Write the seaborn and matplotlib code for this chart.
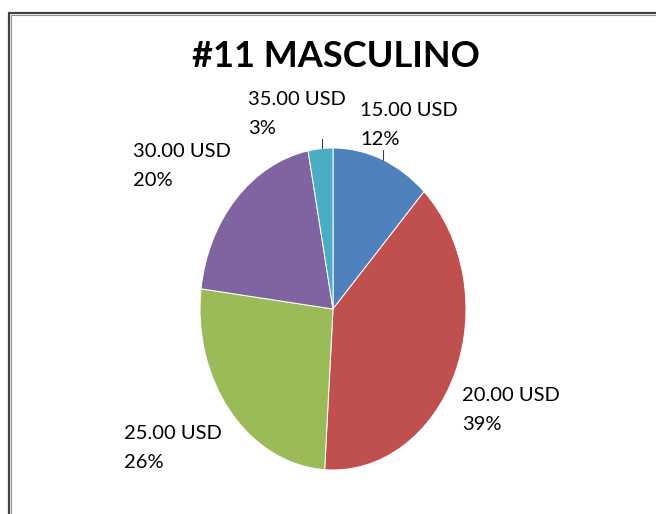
import matplotlib
matplotlib.use("Agg")
import matplotlib.pyplot as plt
import seaborn as sns
from matplotlib.patches import Rectangle

sns.set_theme(style="white")
plt.rcParams['font.family'] = ['Lato', 'DejaVu Sans']

# data
prices = ['15.00 USD', '20.00 USD', '25.00 USD', '30.00 USD', '35.00 USD']
shares = [12, 39, 26, 20, 3]
colors = ['#4F81BD', '#C0504D', '#9BBB59', '#8064A2', '#4BACC6']

W, H = 656, 514
fig = plt.figure(figsize=(W / 100, H / 100), dpi=100)
fig.patch.set_facecolor('white')

# outer frame (double line like the excel chart area)
for ox, oy, lw, c in [(8.5, 12.5, 1.6, '#404040'), (10.5, 14.5, 0.8, '#909090')]:
    fig.add_artist(Rectangle((ox / W, -0.5), 2.0, 1.5 - oy / H,
                             transform=fig.transFigure, fill=False,
                             edgecolor=c, linewidth=lw))

# pie axes: ellipse centre ~(333,309), rx 133, ry 161
ax = fig.add_axes([200 / W, 44 / H, 266 / W, 322 / H])
ax.pie(shares, colors=colors, startangle=90, counterclock=False,
       wedgeprops=dict(edgecolor='white', linewidth=0.7))
ax.set_aspect('auto')
ax.set_xlim(-1, 1)
ax.set_ylim(-1, 1)

fig.text(336 / W, 1 - 67 / H, '#11 MASCULINO', ha='center', va='baseline',
         fontsize=26, fontweight='bold', color='black')

# label positions (top-left of each two-line label, in pixels)
label_pos = [(360, 102), (462, 387), (124, 425), (133, 143), (248, 91)]
for name, pct, (x, y) in zip(prices, shares, label_pos):
    fig.text(x / W, 1 - y / H, f'{name}\n{pct}%', ha='left', va='top',
             fontsize=14.5, color='black', linespacing=1.85)

# short leader lines for the two small top labels
fig.add_artist(plt.Line2D([322 / W, 322 / W], [1 - 139 / H, 1 - 148 / H],
                          transform=fig.transFigure, color='#404040', lw=0.8))
fig.add_artist(plt.Line2D([383 / W, 383 / W], [1 - 150 / H, 1 - 160 / H],
                          transform=fig.transFigure, color='#404040', lw=0.8))

fig.savefig('out.png', dpi=100, facecolor='white')
